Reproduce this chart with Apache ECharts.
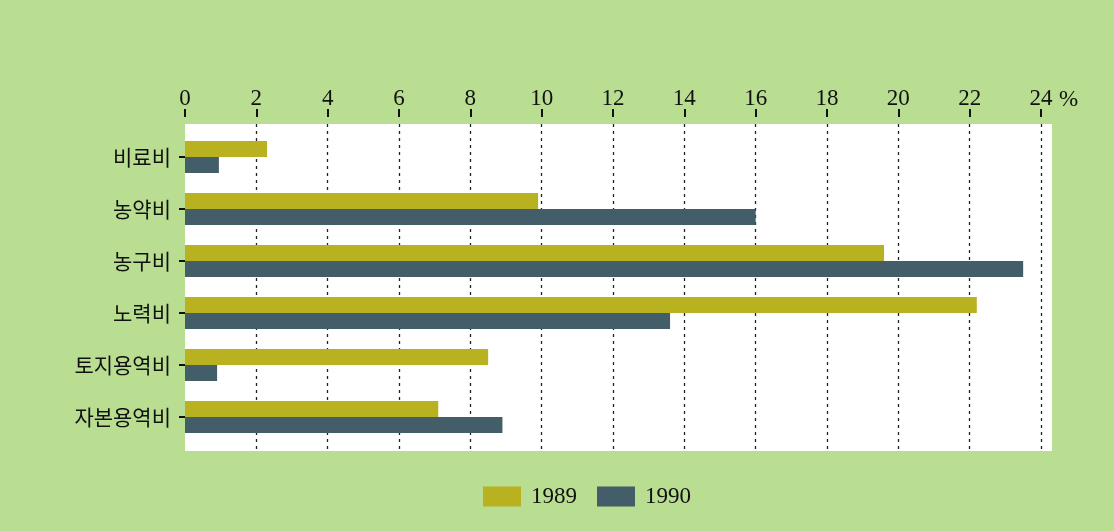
<!DOCTYPE html>
<html>
<head>
<meta charset="utf-8">
<script src="https://cdn.jsdelivr.net/npm/echarts@6/dist/echarts.min.js"></script>
<style>
  html, body { margin: 0; padding: 0; background: #b9dd91; }
  #chart { width: 1114px; height: 531px; }
</style>
</head>
<body>
<div id="chart"></div>
<script>
// cost items (top to bottom)
const categories = ['비료비', '농약비', '농구비', '노력비', '토지용역비', '자본용역비'];
// share of cost, %
const values1989 = [2.3, 9.9, 19.6, 22.2, 8.5, 7.1];
const values1990 = [0.95, 16.0, 23.5, 13.6, 0.9, 8.9];
const xTicks = { min: 0, max: 24, interval: 2 };

const serif = '"Liberation Serif", "DejaVu Serif", serif';
const korean = '"Noto Sans CJK KR", sans-serif';

const chart = echarts.init(document.getElementById('chart'));
const option = {
  animation: false,
  backgroundColor: '#b9dd91',
  grid: [
    // bars grid
    { left: 185, right: 73, top: 131, bottom: 88 },
    // white panel with dashed grid lines
    { left: 185, right: 62, top: 124, bottom: 80, show: true, backgroundColor: '#ffffff', borderWidth: 0, z: 0 }
  ],
  legend: {
    top: 480,
    left: 478,
    itemWidth: 38,
    itemHeight: 20,
    itemGap: 20,
    icon: 'rect',
    textStyle: { fontFamily: serif, fontSize: 23, color: '#111', padding: [0, 0, 0, 5] },
    data: ['1989', '1990']
  },
  xAxis: [
    {
      type: 'value',
      gridIndex: 0,
      position: 'top',
      offset: 14,
      min: xTicks.min,
      max: xTicks.max,
      interval: xTicks.interval,
      name: '%',
      nameLocation: 'end',
      nameGap: 18,
      nameTextStyle: { fontFamily: serif, fontSize: 23, color: '#111', verticalAlign: 'bottom', padding: [0, 0, 6, 0] },
      axisLine: { show: false },
      axisTick: { show: true, length: 8, lineStyle: { color: '#111', width: 2 } },
      axisLabel: { fontFamily: serif, fontSize: 23, color: '#111', margin: 7 },
      splitLine: { show: false }
    },
    {
      type: 'value',
      gridIndex: 1,
      min: 0,
      max: 24.31,
      interval: xTicks.interval,
      axisLine: { show: false },
      axisTick: { show: false },
      axisLabel: { show: false },
      splitLine: {
        show: true,
        showMinLine: false,
        showMaxLine: false,
        lineStyle: { color: '#222', type: [3, 4], width: 1.3 }
      }
    }
  ],
  yAxis: [
    {
      type: 'category',
      gridIndex: 0,
      inverse: true,
      data: categories,
      offset: 4,
      axisLine: { show: false },
      axisTick: { show: true, alignWithLabel: true, length: 6, lineStyle: { color: '#111', width: 2 } },
      axisLabel: { fontFamily: korean, fontSize: 21, color: '#111', margin: 10 }
    },
    {
      type: 'category',
      gridIndex: 1,
      data: categories,
      show: false
    }
  ],
  series: [
    {
      name: '1989',
      type: 'bar',
      xAxisIndex: 0,
      yAxisIndex: 0,
      data: values1989,
      barWidth: 16,
      barGap: '0%',
      itemStyle: { color: '#b9b220' },
      z: 3
    },
    {
      name: '1990',
      type: 'bar',
      xAxisIndex: 0,
      yAxisIndex: 0,
      data: values1990,
      barWidth: 16,
      barGap: '0%',
      itemStyle: { color: '#435d69' },
      z: 3
    }
  ]
};
chart.setOption(option);
</script>
</body>
</html>
